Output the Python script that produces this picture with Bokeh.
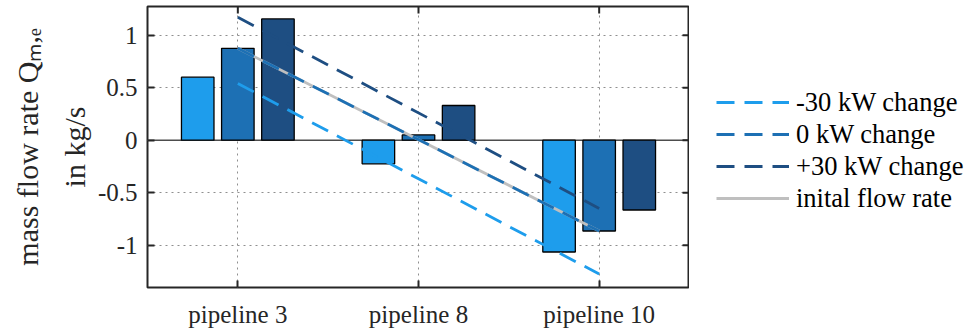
from bokeh.plotting import figure
from bokeh.layouts import row
from bokeh.models import (ColumnDataSource, Legend, LegendItem, Span, LinearAxis,
                          FixedTicker, FactorRange, Range1d)
from bokeh.transform import dodge
from bokeh.embed import file_html
from bokeh.resources import INLINE
import math

# ---- data ----
categories = ["pipeline 3", "pipeline 8", "pipeline 10"]
bar_minus30 = [0.60, -0.225, -1.065]
bar_zero = [0.875, 0.05, -0.865]
bar_plus30 = [1.155, 0.33, -0.665]

line_x = ["pipeline 3", "pipeline 10"]
line_minus30 = [0.54, -1.275]
line_zero = [0.875, -0.865]
line_plus30 = [1.17, -0.65]
line_initial = [0.875, -0.865]

y_ticks = [-1, -0.5, 0, 0.5, 1]
y_tick_labels = ["-1", "-0.5", "0", "0.5", "1"]

series_names = ["-30 kW change", "0 kW change", "+30 kW change", "inital flow rate"]

# ---- styles ----
FONT = "Liberation Serif"
C_M30 = "#1E9DEC"
C_0 = "#1D70B4"
C_P30 = "#1E4E82"
C_INIT = "#BFBFBF"
FRAME = "#262626"
DASH = "18 10"
LW = 2.8

Y_START, Y_END = -1.403, 1.273

p = figure(x_range=FactorRange(factors=categories), y_range=Range1d(Y_START, Y_END),
           frame_width=542, frame_height=281, output_backend="svg",
           toolbar_location=None, min_border_left=147, min_border_top=6,
           min_border_right=0, min_border_bottom=46)

p.outline_line_color = FRAME
p.outline_line_width = 2
p.background_fill_color = "white"
p.border_fill_color = "white"

bars = ColumnDataSource(dict(cat=categories, m30=bar_minus30, z=bar_zero, p30=bar_plus30))
lines = ColumnDataSource(dict(x=line_x, m30=line_minus30, z=line_zero,
                              p30=line_plus30, init=line_initial))

# zero baseline
p.add_layout(Span(location=0, dimension="width", line_color="#4d4d4d",
                  line_width=1.5, level="underlay"))

for field, off, col in [("m30", -0.222, C_M30), ("z", 0.0, C_0), ("p30", 0.222, C_P30)]:
    p.vbar(x=dodge("cat", off, range=p.x_range), top=field, bottom=0, width=0.18,
           source=bars, fill_color=col, line_color="black", line_width=1.3)

p.line("x", "init", source=lines, line_color=C_INIT, line_width=LW)
p.line("x", "m30", source=lines, line_color=C_M30, line_width=LW, line_dash=DASH)
p.line("x", "z", source=lines, line_color=C_0, line_width=LW, line_dash=DASH)
p.line("x", "p30", source=lines, line_color=C_P30, line_width=LW, line_dash=DASH)

# mirrored inward ticks on top and right edges (clipped to the frame)
p.scatter(x=categories, y=[Y_END] * len(categories), marker="dash", size=14,
          angle=math.pi / 2, line_color=FRAME, line_width=2)
n_cat = len(categories)
p.scatter(x=[float(n_cat)] * len(y_ticks), y=y_ticks, marker="dash", size=14,
          line_color=FRAME, line_width=2)

# grid
for g in (p.xgrid, p.ygrid):
    g.grid_line_color = "#8f8f8f"
    g.grid_line_dash = "2 4"
    g.grid_line_width = 1
p.ygrid.ticker = FixedTicker(ticks=y_ticks)

# axes
xa = p.xaxis[0]
ya = p.yaxis[0]
for ax in (xa, ya):
    ax.axis_line_color = None
    ax.major_tick_in = 7
    ax.major_tick_out = 0
    ax.major_tick_line_color = FRAME
    ax.major_tick_line_width = 2
    ax.minor_tick_in = 0
    ax.minor_tick_out = 0
    ax.major_label_text_font = FONT
    ax.major_label_text_font_size = "25px"
    ax.major_label_text_color = "#262626"
xa.major_label_standoff = 13
ya.major_label_standoff = 10
ya.ticker = FixedTicker(ticks=y_ticks)
ya.major_label_overrides = {t: l for t, l in zip(y_ticks, y_tick_labels)}
ya.axis_label = "in kg/s"
ya.axis_label_text_font = FONT
ya.axis_label_text_font_style = "normal"
ya.axis_label_text_font_size = "30px"
ya.axis_label_text_color = "#262626"
ya.axis_label_standoff = 4

# outer label axis
outer = LinearAxis(ticker=FixedTicker(ticks=[]), axis_line_color=None,
                   major_tick_in=0, major_tick_out=0, minor_tick_in=0, minor_tick_out=0,
                   major_label_standoff=0,
                   axis_label="mass flow rate Q\u2098,\u2091", axis_label_text_font=FONT,
                   axis_label_text_font_style="normal", axis_label_text_font_size="30px",
                   axis_label_text_color="#262626", axis_label_standoff=11)
p.add_layout(outer, "left")

# ---- legend panel (separate figure to the right) ----
leg = figure(width=279, height=333, output_backend="svg", toolbar_location=None,
             x_range=Range1d(0, 1), y_range=Range1d(0, 1), min_border=0)
leg.axis.visible = False
leg.grid.visible = False
leg.outline_line_color = None
leg.background_fill_color = "white"
leg.border_fill_color = "white"
nan = float("nan")
lr_m30 = leg.line(x=[nan], y=[nan], line_color=C_M30, line_width=LW, line_dash=DASH)
lr_z = leg.line(x=[nan], y=[nan], line_color=C_0, line_width=LW, line_dash=DASH)
lr_p30 = leg.line(x=[nan], y=[nan], line_color=C_P30, line_width=LW, line_dash=DASH)
lr_init = leg.line(x=[nan], y=[nan], line_color=C_INIT, line_width=LW)

legend = Legend(items=[LegendItem(label=series_names[0], renderers=[lr_m30]),
                       LegendItem(label=series_names[1], renderers=[lr_z]),
                       LegendItem(label=series_names[2], renderers=[lr_p30]),
                       LegendItem(label=series_names[3], renderers=[lr_init])],
                location=(27, 73), border_line_color=None, background_fill_alpha=0,
                label_text_font=FONT, label_text_font_size="26.5px", label_text_color="black",
                glyph_width=73, glyph_height=32, label_height=32, spacing=0,
                label_standoff=7, padding=0, margin=0)
leg.add_layout(legend)

layout = row(p, leg, spacing=0)
open("out.html", "w").write(file_html(layout, INLINE))
